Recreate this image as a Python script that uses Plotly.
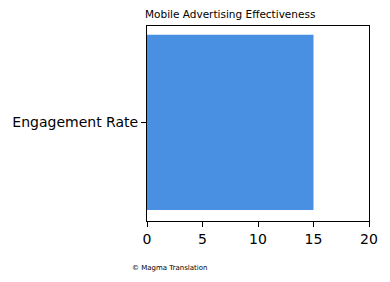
import plotly.graph_objects as go

categories = ["Engagement Rate"]
values = [15]
x_ticks = [0, 5, 10, 15, 20]

L, R, T, B = 143, 21, 26, 61
PW, PH = 390 - L - R, 282 - T - B

fig = go.Figure()
fig.add_trace(go.Bar(
    y=categories, x=values, orientation="h", width=0.8,
    marker=dict(color="#4A90E2", line=dict(width=0)),
))

fig.update_layout(
    width=390, height=282,
    margin=dict(l=L, r=R, t=T, b=B, pad=0),
    paper_bgcolor="white", plot_bgcolor="white",
    font=dict(family="DejaVu Sans", color="black", size=14),
    showlegend=False,
    title=dict(text="Mobile Advertising Effectiveness", x=145/390, xanchor="left",
               y=1-14/282, yanchor="middle", font=dict(size=10.5)),
    xaxis=dict(range=[0, 20], tickvals=x_ticks, ticks="outside", ticklen=5,
               tickcolor="black", showline=True, linecolor="black", linewidth=1,
               mirror=True, showgrid=False, zeroline=False,
               tickfont=dict(size=14)),
    yaxis=dict(range=[-0.45, 0.44], ticks="outside", ticklen=5, tickcolor="black",
               showline=True, linecolor="black", linewidth=1, mirror=True,
               showgrid=False, zeroline=False, tickfont=dict(size=14)),
    annotations=[dict(text="© Magma Translation", x=(126-L)/PW, y=(282-B-268)/PH,
                      xref="paper", yref="paper", xanchor="left", yanchor="middle",
                      showarrow=False, font=dict(size=7))],
)

fig.write_html("out.html")
